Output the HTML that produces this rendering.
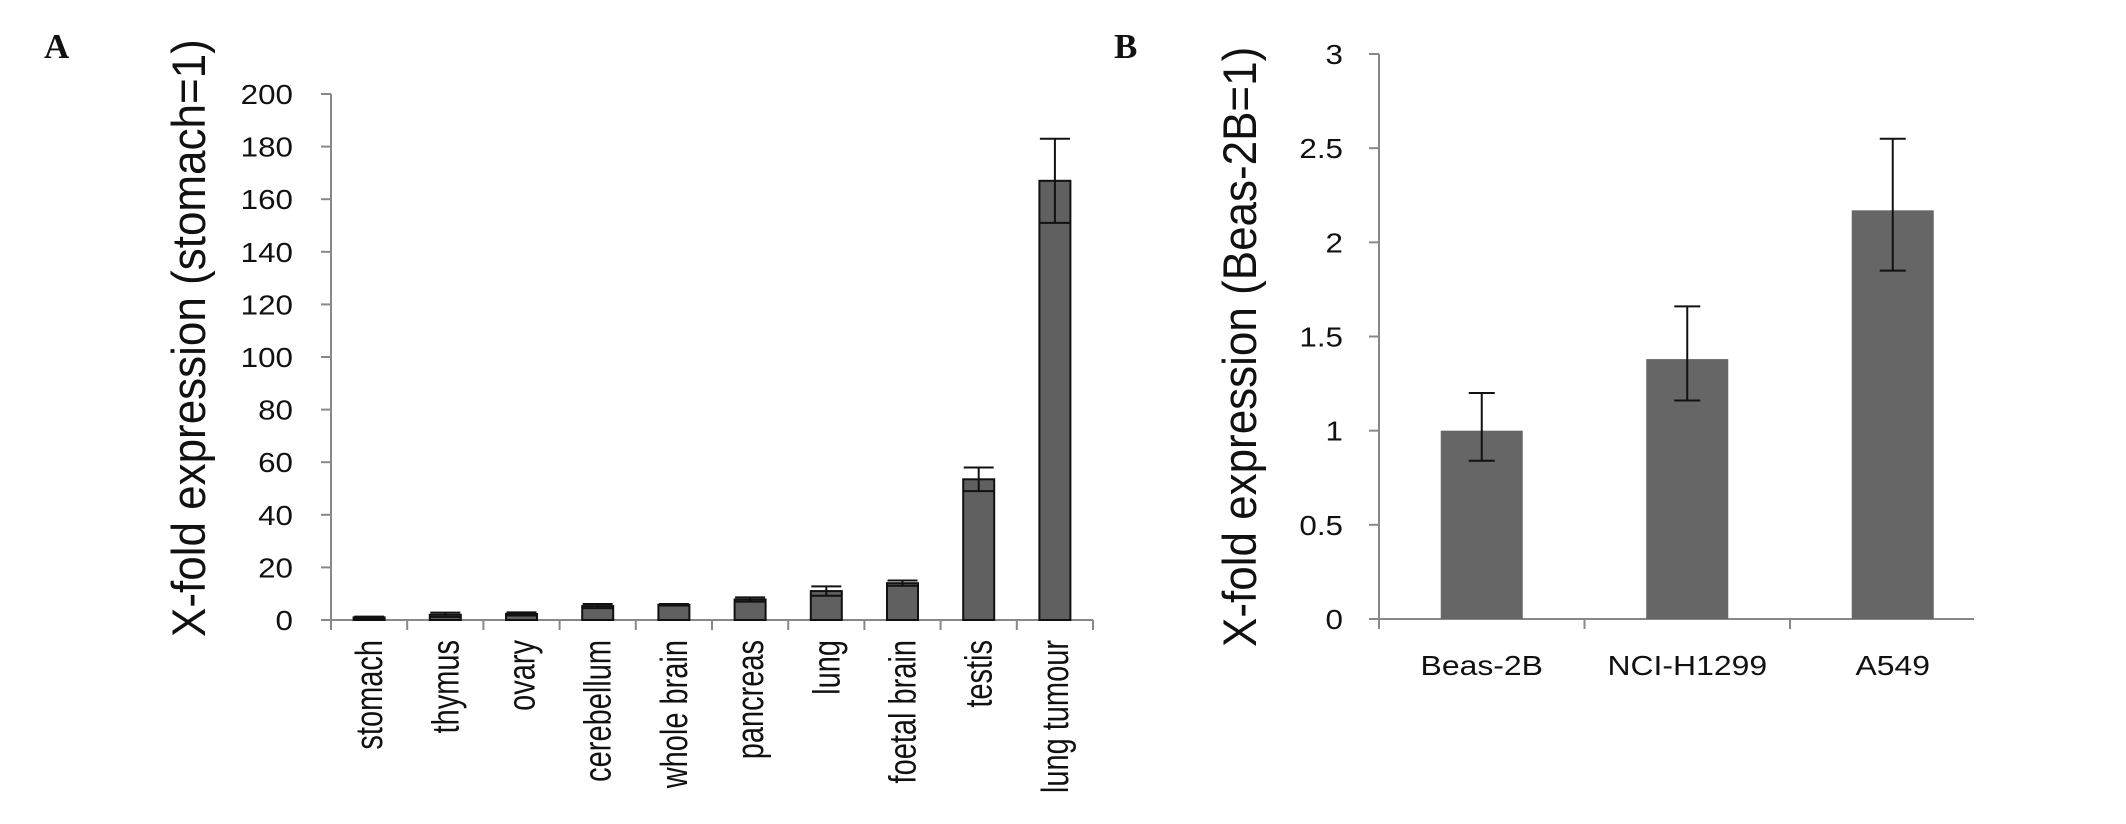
<!DOCTYPE html>
<html><head><meta charset="utf-8"><style>
html,body{margin:0;padding:0;background:#fff;}
svg{display:block;}
text{font-family:"Liberation Sans",sans-serif;fill:#111;}
</style></head><body>
<svg id="fig" width="2126" height="824" viewBox="0 0 2126 824" xmlns="http://www.w3.org/2000/svg">
<text x="44" y="58" style="font-family:'Liberation Serif',serif;font-weight:bold;font-size:35px">A</text>
<text x="1114" y="58" style="font-family:'Liberation Serif',serif;font-weight:bold;font-size:35px">B</text>
</svg>
<script>
// Panel A data
const catsA = ["stomach","thymus","ovary","cerebellum","whole brain","pancreas","lung","foetal brain","testis","lung tumour"];
const valsA = [1, 2, 2.3, 5.3, 5.8, 7.8, 11, 14, 53.5, 167];
const errA = [0.3, 0.8, 0.6, 0.8, 0.3, 0.8, 1.8, 1, 4.5, 16];
const ticksA = [0,20,40,60,80,100,120,140,160,180,200];
// Panel B data
const catsB = ["Beas-2B","NCI-H1299","A549"];
const valsB = [1, 1.38, 2.17];
const errUpB = [0.2, 0.28, 0.38];
const errDnB = [0.16, 0.22, 0.32];
const ticksB = [0,0.5,1,1.5,2,2.5,3];

const NS="http://www.w3.org/2000/svg";
const svg=document.getElementById('fig');
function mk(tag,attrs){const e=document.createElementNS(NS,tag);for(const k in attrs)e.setAttribute(k,attrs[k]);svg.appendChild(e);return e;}
function txt(s,x,y,size,anchor,sx,rot){
  const t=mk('text',{x:0,y:0,'font-size':size,'text-anchor':anchor,
    transform:`translate(${x},${y}) scale(${sx},1)`+(rot?` rotate(${rot})`:'')});
  t.textContent=s;return t;
}
const S=1.12;

// ---- Panel A
const ax={x0:331,y0:620,top:94,w:76.2,max:200};
const yA=v=>ax.y0-(v/ax.max)*(ax.y0-ax.top);
const xA=i=>ax.x0+ax.w*(i+0.5);
const aLine=mk('line',{x1:ax.x0,y1:ax.top,x2:ax.x0,y2:ax.y0,stroke:'#888','stroke-width':2});


const aX=mk('line',{x1:ax.x0,y1:ax.y0,x2:ax.x0+ax.w*catsA.length,y2:ax.y0,stroke:'#888','stroke-width':2});


ticksA.forEach(v=>{
  mk('line',{x1:ax.x0-10,y1:yA(v),x2:ax.x0,y2:yA(v),stroke:'#888','stroke-width':2});
  const t=txt(String(v),ax.x0-38,yA(v)+10,28,'end',S);
  
  
});
for(let i=0;i<=catsA.length;i++){mk('line',{x1:ax.x0+ax.w*i,y1:ax.y0,x2:ax.x0+ax.w*i,y2:ax.y0+10,stroke:'#888','stroke-width':2});}
catsA.forEach((c,i)=>{
  const bw=31,cx=xA(i);
  const r=mk('rect',{x:cx-bw/2,y:yA(valsA[i]),width:bw,height:ax.y0-yA(valsA[i]),fill:'#606060',stroke:'#111','stroke-width':2});
  
  
  const hi=yA(valsA[i]+errA[i]),lo=yA(valsA[i]-errA[i]);
  const e=mk('path',{d:`M${cx},${hi}V${lo}M${cx-15},${hi}H${cx+15}M${cx-15},${lo}H${cx+15}`,stroke:'#111','stroke-width':2,fill:'none'});
  
  
  const t=txt(c,cx+13,640,29,'end',1.3,-90);
  
  
});
const tA=txt("X-fold expression (stomach=1)",205,637,44,'start',1.08,-90);



// ---- Panel B
const bx={x0:1379,y0:619,top:54,w:205.5,max:3,end:1974};
const yB=v=>bx.y0-(v/bx.max)*(bx.y0-bx.top);
const xB=i=>bx.x0+bx.w*(i+0.5);
const bY=mk('line',{x1:bx.x0,y1:bx.top,x2:bx.x0,y2:bx.y0,stroke:'#888','stroke-width':2});


const bXl=mk('line',{x1:bx.x0,y1:bx.y0,x2:bx.end,y2:bx.y0,stroke:'#888','stroke-width':2});


ticksB.forEach(v=>{
  mk('line',{x1:bx.x0-10,y1:yB(v),x2:bx.x0,y2:yB(v),stroke:'#888','stroke-width':2});
  const t=txt(String(v),bx.x0-36,yB(v)+10,28,'end',S);
  
  
});
for(let i=0;i<catsB.length;i++){mk('line',{x1:bx.x0+bx.w*i,y1:bx.y0,x2:bx.x0+bx.w*i,y2:bx.y0+10,stroke:'#888','stroke-width':2});}
catsB.forEach((c,i)=>{
  const bw=82,cx=xB(i);
  const r=mk('rect',{x:cx-bw/2,y:yB(valsB[i]),width:bw,height:bx.y0-yB(valsB[i]),fill:'#666'});
  
  
  const hi=yB(valsB[i]+errUpB[i]),lo=yB(valsB[i]-errDnB[i]);
  const e=mk('path',{d:`M${cx},${hi}V${lo}M${cx-13},${hi}H${cx+13}M${cx-13},${lo}H${cx+13}`,stroke:'#111','stroke-width':2,fill:'none'});
  
  
  const t=txt(c,cx,675,28,'middle',1.14);
  
  
});
const tB=txt("X-fold expression (Beas-2B=1)",1256,647,44,'start',1.08,-90);


</script>
</body></html>
